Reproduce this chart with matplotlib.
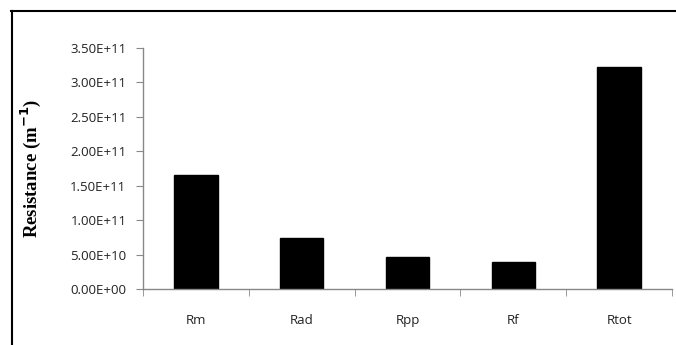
import matplotlib
matplotlib.use("Agg")
import matplotlib.pyplot as plt
from matplotlib.lines import Line2D
import numpy as np

# resistance components
labels = ["Rm", "Rad", "Rpp", "Rf", "Rtot"]
resistance = [1.66e11, 7.4e10, 4.6e10, 3.9e10, 3.23e11]
yticks = [0, 5e10, 1e11, 1.5e11, 2e11, 2.5e11, 3e11, 3.5e11]
ytick_labels = ["0.00E+00", "5.00E+10", "1.00E+11", "1.50E+11", "2.00E+11",
                "2.50E+11", "3.00E+11", "3.50E+11"]

fig = plt.figure(figsize=(6.76, 3.45), dpi=100)
ax = fig.add_axes([143 / 676, 1 - 289 / 345, (672 - 143) / 676, (289 - 48) / 345])

x = np.arange(len(labels))
ax.bar(x, resistance, width=0.41, color="black", edgecolor="black")

ax.set_xlim(-0.5, len(labels) - 0.5)
ax.set_ylim(0, 3.5e11)
ax.set_yticks(yticks)
ax.set_yticklabels(ytick_labels, fontsize=9.5, family="Open Sans", color="#222222")
ax.set_xticks(x)
ax.set_xticklabels(labels, fontsize=9.5, family="Open Sans", color="#222222")
ax.tick_params(axis="x", length=0, pad=18)
ax.set_xticks(np.arange(len(labels) + 1) - 0.5, minor=True)
ax.tick_params(axis="x", which="minor", length=5, color="#888888")
ax.tick_params(axis="y", length=5, color="#888888", pad=7)

for s in ["top", "right"]:
    ax.spines[s].set_visible(False)
for s in ["left", "bottom"]:
    ax.spines[s].set_color("#888888")
    ax.spines[s].set_linewidth(1)

ax.set_ylabel("Resistance (m$^{\\mathbf{-1}}$)", family="Liberation Serif",
              fontweight="bold", fontsize=13.5)
ax.yaxis.set_label_coords(-(143 - 43) / 529, 0.5)

# outer frame
fig.add_artist(Line2D([11 / 676, 1], [1 - 11 / 345] * 2, color="black", lw=1.5,
                      transform=fig.transFigure))
fig.add_artist(Line2D([12 / 676] * 2, [0, 1 - 11 / 345], color="black", lw=1.5,
                      transform=fig.transFigure))

fig.savefig("out.png", dpi=100)
